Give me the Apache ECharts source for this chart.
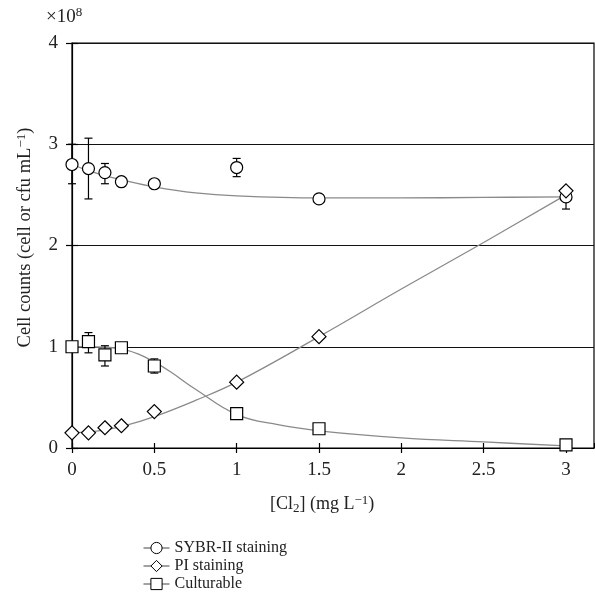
<!DOCTYPE html>
<html>
<head>
<meta charset="utf-8">
<script src="https://cdn.jsdelivr.net/npm/echarts@6/dist/echarts.min.js"></script>
<style>html,body{margin:0;padding:0;background:#fff}#c{width:595px;height:613px}</style>
</head>
<body>
<div id="c"></div>
<script>
// Measured points (×10^8)
var doseX = [0, 0.1, 0.2, 0.3, 0.5, 1, 1.5, 3];
var sybr = [2.80, 2.76, 2.72, 2.63, 2.61, 2.77, 2.46, 2.48];
var pi = [0.15, 0.15, 0.20, 0.22, 0.36, 0.65, 1.10, 2.54];
var cult = [1.00, 1.05, 0.92, 0.99, 0.81, 0.34, 0.19, 0.03];

// Error bars [x, low, high]
var sybrErr = [[0, 2.61, 3.00], [0.1, 2.46, 3.06], [0.2, 2.61, 2.81], [1, 2.68, 2.86], [3, 2.36, 2.56]];
var cultErr = [[0.1, 0.94, 1.14], [0.2, 0.81, 1.01], [0.5, 0.74, 0.88]];

// Fitted curves
var fitX = [0, 0.1, 0.2, 0.3, 0.5, 0.75, 1, 1.5, 2, 2.5, 3];
var sybrFit = [2.80, 2.74, 2.69, 2.65, 2.58, 2.52, 2.49, 2.47, 2.47, 2.475, 2.48];
var piFit = [0.15, 0.16, 0.18, 0.21, 0.31, 0.47, 0.65, 1.10, 1.57, 2.03, 2.50];
var cultFitX = [0, 0.1, 0.2, 0.3, 0.4, 0.5, 0.6, 0.75, 1, 1.25, 1.5, 2, 2.5, 3];
var cultFit = [1.0, 1.0, 0.995, 0.98, 0.93, 0.85, 0.75, 0.58, 0.33, 0.23, 0.17, 0.10, 0.06, 0.02];

var xTicks = [0, 0.5, 1, 1.5, 2, 2.5, 3];
var yTicks = [0, 1, 2, 3, 4];
var seriesNames = ['SYBR-II staining', 'PI staining', 'Culturable'];

var FONT = 'Liberation Serif';
function pairs(xs, ys) { return xs.map(function (x, i) { return [x, ys[i]]; }); }

function errRender(params, api) {
  var x = api.value(0), lo = api.value(1), hi = api.value(2);
  var pLo = api.coord([x, lo]), pHi = api.coord([x, hi]);
  var w = 4;
  var st = { stroke: '#000', lineWidth: 1.2 };
  return {
    type: 'group',
    children: [
      { type: 'line', shape: { x1: pLo[0], y1: pLo[1], x2: pHi[0], y2: pHi[1] }, style: st },
      { type: 'line', shape: { x1: pLo[0] - w, y1: pLo[1], x2: pLo[0] + w, y2: pLo[1] }, style: st },
      { type: 'line', shape: { x1: pHi[0] - w, y1: pHi[1], x2: pHi[0] + w, y2: pHi[1] }, style: st }
    ]
  };
}

function fitSeries(xs, ys) {
  return {
    type: 'line', data: pairs(xs, ys), smooth: 0.4, showSymbol: false, symbol: 'none',
    lineStyle: { color: '#8a8a8a', width: 1.3 }, z: 2, silent: true
  };
}

function markSeries(name, ys, sym, size) {
  return {
    name: name, type: 'line', data: pairs(doseX, ys), symbol: sym, symbolSize: size,
    showSymbol: true,
    itemStyle: { color: '#fff', borderColor: '#000', borderWidth: 1.2 },
    lineStyle: { opacity: 0, width: 0 }, z: 5
  };
}

var chart = echarts.init(document.getElementById('c'), null, { renderer: 'canvas' });
chart.setOption({
  animation: false,
  backgroundColor: '#fff',
  grid: { left: 72, right: 1, top: 43, bottom: 165, show: true, borderColor: '#000', borderWidth: 1.2 },
  xAxis: [{
    type: 'value', min: 0, max: 3.17, interval: 0.5,
    axisLine: { lineStyle: { color: '#000', width: 1.2 } },
    axisTick: { show: true, inside: false, length: 5, lineStyle: { color: '#000', width: 1.2 } },
    axisLabel: { color: '#222', fontFamily: FONT, fontSize: 19, margin: 13, showMaxLabel: false,
      formatter: function (v) { return xTicks.indexOf(v) >= 0 ? String(v) : ''; } },
    splitLine: { show: false }
  }, {
    type: 'value', min: 0, max: 3.17, interval: 0.5, position: 'bottom',
    axisLine: { show: false },
    axisTick: { show: true, inside: true, length: 5, lineStyle: { color: '#000', width: 1.2 } },
    axisLabel: { show: false }, splitLine: { show: false }
  }],
  yAxis: [{
    type: 'value', min: 0, max: 4, interval: 1,
    axisLine: { show: true, lineStyle: { color: '#000', width: 1.2 } },
    axisTick: { show: true, inside: false, length: 6, lineStyle: { color: '#000', width: 1.2 } },
    axisLabel: { color: '#222', fontFamily: FONT, fontSize: 19, margin: 14,
      formatter: function (v) { return yTicks.indexOf(v) >= 0 ? String(v) : ''; } },
    splitLine: { show: true, lineStyle: { color: '#111', width: 1.2 } },
    name: 'Cell counts (cell or cfu mL{sup|\u22121})',
    nameLocation: 'middle', nameGap: 36, nameRotate: 90,
    nameTextStyle: { color: '#222', fontFamily: FONT, fontSize: 18.5, padding: [0, 0, 0, 16],
      rich: { sup: { fontFamily: FONT, fontSize: 13, verticalAlign: 'top', padding: [0, 0, 8, 0], color: '#222' } } }
  }, {
    type: 'value', min: 0, max: 4, interval: 1, position: 'left',
    axisLine: { show: false },
    axisTick: { show: true, inside: true, length: 6, lineStyle: { color: '#000', width: 1.2 } },
    axisLabel: { show: false }, splitLine: { show: false }
  }],
  legend: {
    orient: 'vertical', left: 138, top: 535, itemGap: 2, itemWidth: 26, itemHeight: 14,
    data: seriesNames,
    textStyle: { fontFamily: FONT, fontSize: 16, color: '#222' },
    lineStyle: { color: '#444', width: 1, opacity: 1 },
    itemStyle: { color: '#fff', borderColor: '#000', borderWidth: 1 }
  },
  graphic: [
    { type: 'text', left: 46, top: 6, style: { text: '\u00d710{s|8}', fontFamily: FONT, fontSize: 19, fill: '#222',
      rich: { s: { fontFamily: FONT, fontSize: 13, verticalAlign: 'top', padding: [0, 0, 9, 0], fill: '#222' } } } },
    { type: 'text', left: 270, top: 494, style: { text: '[Cl{b|2}] (mg L{s|\u22121})', fontFamily: FONT, fontSize: 18, fill: '#222',
      rich: {
        b: { fontFamily: FONT, fontSize: 13, padding: [8, 0, 0, 0], fill: '#222' },
        s: { fontFamily: FONT, fontSize: 13, padding: [0, 0, 8, 0], fill: '#222' }
      } } }
  ],
  series: [
    fitSeries(fitX, sybrFit),
    fitSeries(fitX, piFit),
    fitSeries(cultFitX, cultFit),
    { type: 'custom', renderItem: errRender, data: sybrErr, z: 3, silent: true },
    { type: 'custom', renderItem: errRender, data: cultErr, z: 3, silent: true },
    markSeries(seriesNames[0], sybr, 'circle', 12),
    markSeries(seriesNames[1], pi, 'diamond', 14),
    markSeries(seriesNames[2], cult, 'rect', 12)
  ]
});
</script>
</body>
</html>
